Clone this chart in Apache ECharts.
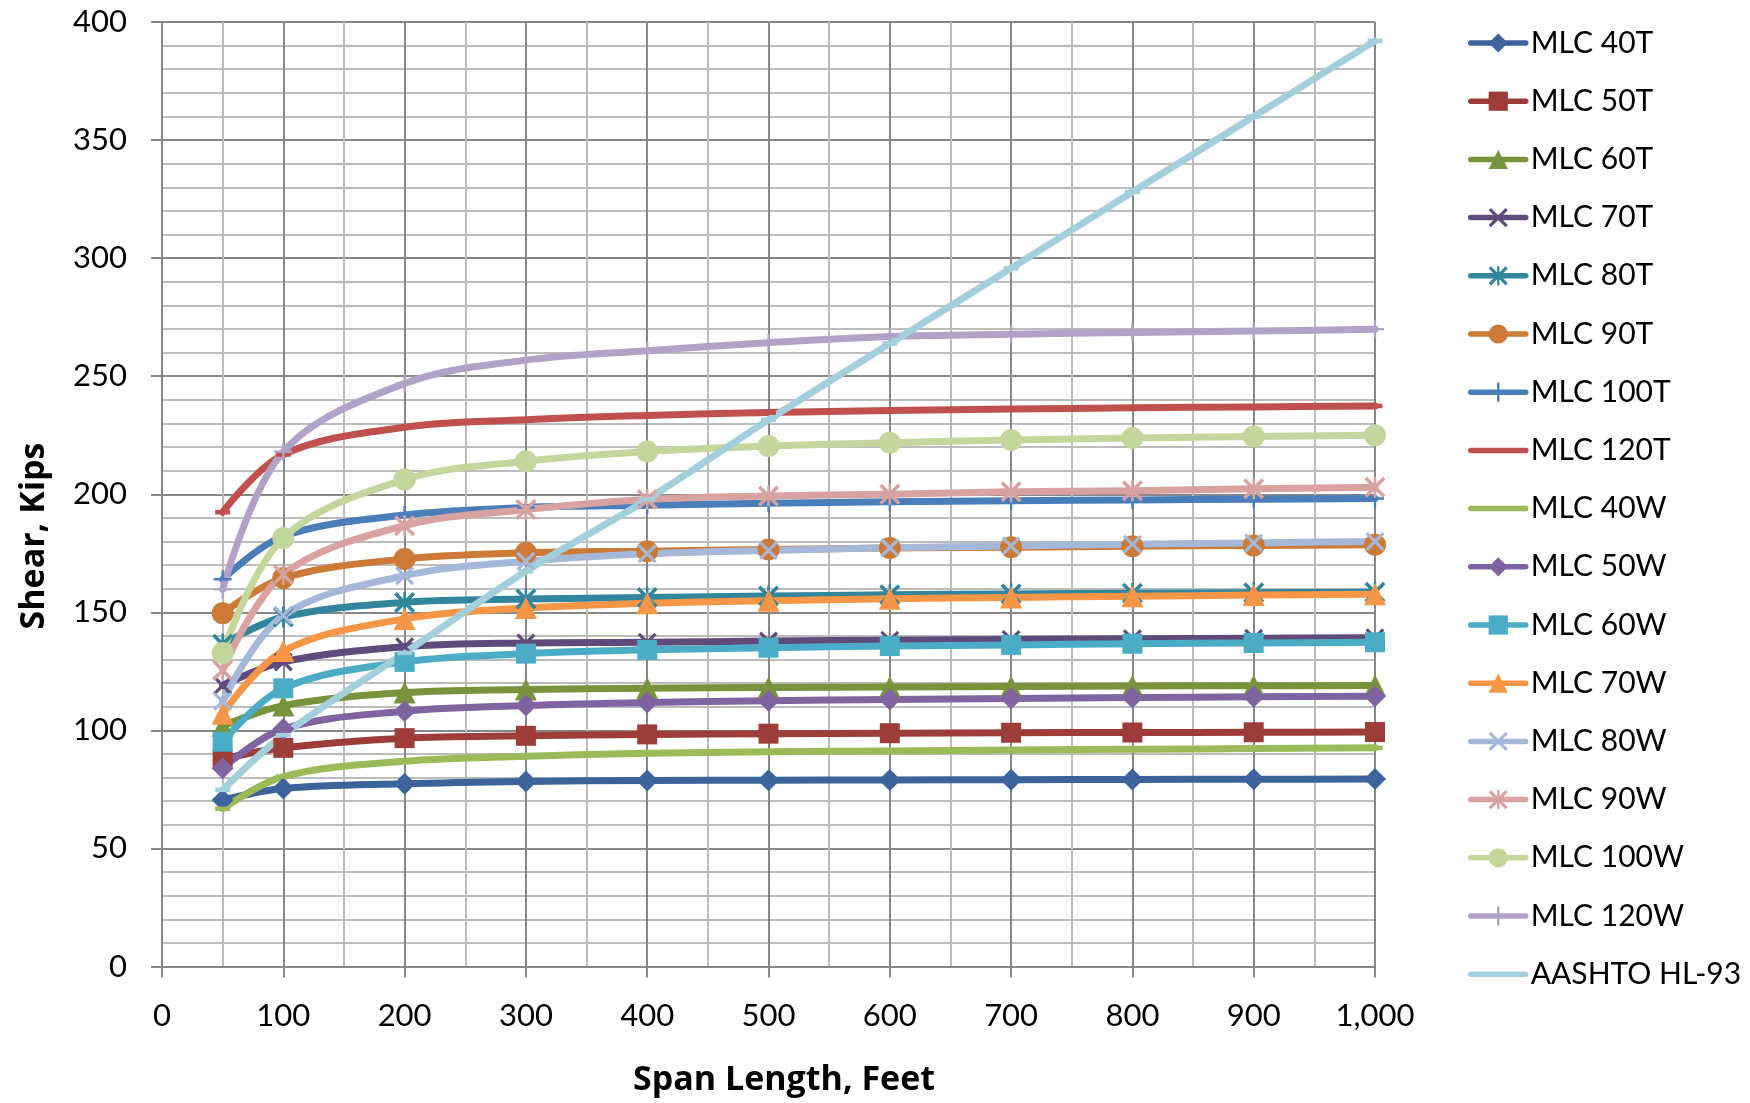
<!DOCTYPE html>
<html>
<head>
<meta charset="utf-8">
<script src="https://cdn.jsdelivr.net/npm/echarts@6/dist/echarts.min.js"></script>
<style>
html,body{margin:0;padding:0;background:#fff;}
#chart{width:1750px;height:1103px;}
</style>
</head>
<body>
<div id="chart"></div>
<script>
const spans = [50, 100, 200, 300, 400, 500, 600, 700, 800, 900, 1000];
const xTicks = [0, 100, 200, 300, 400, 500, 600, 700, 800, 900, 1000];
const yTicks = [0, 50, 100, 150, 200, 250, 300, 350, 400];

const mlc40T  = [70.5, 75.4, 77.4, 78.4, 78.8, 78.9, 79.0, 79.1, 79.2, 79.3, 79.4];
const mlc50T  = [87.8, 92.6, 96.7, 97.7, 98.3, 98.6, 98.8, 99.0, 99.1, 99.2, 99.3];
const mlc60T  = [101.8, 110.5, 116.0, 117.3, 117.8, 118.2, 118.4, 118.6, 118.8, 118.9, 119.0];
const mlc70T  = [119.0, 129.0, 135.4, 137.0, 137.3, 137.8, 138.2, 138.5, 138.8, 139.0, 139.2];
const mlc80T  = [136.5, 148.0, 154.2, 155.6, 156.3, 156.9, 157.4, 157.8, 158.1, 158.3, 158.5];
const mlc90T  = [149.6, 164.5, 172.6, 175.2, 175.9, 176.6, 177.2, 177.6, 178.0, 178.3, 178.6];
const mlc100T = [164.0, 182.2, 191.2, 194.4, 195.3, 196.2, 196.8, 197.2, 197.6, 197.9, 198.2];
const mlc120T = [192.4, 216.8, 228.4, 231.6, 233.4, 234.6, 235.5, 236.1, 236.6, 237.0, 237.4];
const mlc40W  = [66.8, 80.4, 86.9, 89.0, 90.3, 90.9, 91.3, 91.7, 92.0, 92.3, 92.6];
const mlc50W  = [84.0, 100.6, 108.1, 110.5, 111.8, 112.5, 113.1, 113.5, 113.9, 114.2, 114.5];
const mlc60W  = [95.2, 117.8, 129.0, 132.5, 134.1, 135.0, 135.7, 136.2, 136.7, 137.0, 137.3];
const mlc70W  = [107.0, 133.6, 147.2, 151.8, 153.8, 154.9, 155.7, 156.3, 156.8, 157.3, 157.7];
const mlc80W  = [112.2, 148.6, 165.5, 171.6, 174.8, 176.2, 177.3, 178.1, 178.8, 179.4, 180.0];
const mlc90W  = [125.5, 166.0, 186.7, 193.5, 197.8, 199.3, 200.0, 201.1, 201.5, 202.3, 203.0];
const mlc100W = [132.8, 181.5, 206.2, 214.0, 218.1, 220.4, 221.8, 223.0, 223.8, 224.5, 225.0];
const mlc120W = [159.7, 218.0, 246.9, 256.8, 260.8, 264.2, 266.8, 267.8, 268.5, 269.1, 269.9];
const hl93    = [74.8, 98.0, 132.8, 167.4, 197.8, 231.5, 263.8, 295.7, 328.0, 360.0, 392.0];

const seriesNames = ['MLC 40T','MLC 50T','MLC 60T','MLC 70T','MLC 80T','MLC 90T','MLC 100T','MLC 120T',
  'MLC 40W','MLC 50W','MLC 60W','MLC 70W','MLC 80W','MLC 90W','MLC 100W','MLC 120W','AASHTO HL-93'];
const seriesValues = [mlc40T, mlc50T, mlc60T, mlc70T, mlc80T, mlc90T, mlc100T, mlc120T,
  mlc40W, mlc50W, mlc60W, mlc70W, mlc80W, mlc90W, mlc100W, mlc120W, hl93];
const seriesColors = ['#3c649b','#9c3d3a','#77933c','#604a7b','#31859c','#cc7a36','#4a7ebb','#c0504d',
  '#9bbb59','#8064a2','#4bacc6','#f79646','#a5b8d9','#d8a2a1','#c3d69b','#b3a2c7','#a3cfdc'];

const X_PATH = 'path://M0,1.2L1.2,0L10,8.8L8.8,10ZM8.8,0L10,1.2L1.2,10L0,8.8Z';
const AST_PATH = 'path://M0,1.2L1.2,0L10,8.8L8.8,10ZM8.8,0L10,1.2L1.2,10L0,8.8ZM4.4,0H5.6V10H4.4Z';
const PLUS_PATH = 'path://M4.35,0H5.65V10H4.35ZM0,4.35H10V5.65H0Z';
const DASH_PATH = 'path://M0,0H10V3H0Z';

const markers = [
  ['diamond', 22], ['rect', 20], ['triangle', 22], [X_PATH, 19], [AST_PATH, 21], ['circle', 22], [PLUS_PATH, 18], [DASH_PATH, 15],
  [DASH_PATH, 15], ['diamond', 22], ['rect', 20], ['triangle', 22], [X_PATH, 19], [AST_PATH, 21], ['circle', 22], [PLUS_PATH, 18], [DASH_PATH, 15]
];
const hideLegendMarker = [false,false,false,false,false,false,false,true,true,false,false,false,false,false,false,false,true];

const FONT = 'Lato, "Open Sans", sans-serif';
const TITLE_FONT = '"Open Sans", Lato, sans-serif';

const series = seriesNames.map((name, i) => ({
  name: name,
  type: 'line',
  data: spans.map((x, j) => [x, seriesValues[i][j]]),
  smooth: 0.35,
  symbol: markers[i][0],
  symbolSize: markers[i][1],
  symbolKeepAspect: true,
  showAllSymbol: true,
  color: seriesColors[i],
  lineStyle: { width: 7, color: seriesColors[i], cap: 'round', join: 'round' },
  itemStyle: { color: seriesColors[i] },
  emphasis: { disabled: true },
  animation: false
}));

const legendData = seriesNames.map((name, i) => hideLegendMarker[i]
  ? { name: name, itemStyle: { opacity: 0 } }
  : { name: name });

const chart = echarts.init(document.getElementById('chart'), null, { renderer: 'canvas' });
chart.setOption({
  backgroundColor: '#ffffff',
  animation: false,
  grid: { left: 162, top: 22, width: 1213, height: 944.5, containLabel: false },
  xAxis: {
    type: 'value', min: xTicks[0], max: xTicks[xTicks.length - 1], interval: 100,
    axisLine: { show: true, lineStyle: { color: '#878787', width: 2 } },
    axisTick: { show: true, length: 11, lineStyle: { color: '#878787', width: 2 } },
    axisLabel: { margin: 34, fontSize: 31, fontFamily: FONT, color: '#000',
      formatter: v => v.toLocaleString('en-US') },
    splitLine: { show: true, lineStyle: { color: '#878787', width: 2 } },
    minorTick: { show: false, splitNumber: 2 },
    minorSplitLine: { show: true, lineStyle: { color: '#bcbcbc', width: 2 } }
  },
  yAxis: {
    type: 'value', min: yTicks[0], max: yTicks[yTicks.length - 1], interval: 50,
    axisLine: { show: true, lineStyle: { color: '#878787', width: 2 } },
    axisTick: { show: true, length: 11, lineStyle: { color: '#878787', width: 2 } },
    axisLabel: { margin: 35, fontSize: 31, fontFamily: FONT, color: '#000' },
    splitLine: { show: true, lineStyle: { color: '#878787', width: 2 } },
    minorTick: { show: false, splitNumber: 5 },
    minorSplitLine: { show: true, lineStyle: { color: '#bcbcbc', width: 2 } }
  },
  legend: {
    orient: 'vertical', left: 1463, top: 23,
    itemWidth: 55, itemHeight: 24, itemGap: 28.2,
    data: legendData,
    lineStyle: { width: 5.5 },
    textStyle: { fontSize: 30, fontFamily: FONT, color: '#000' },
    selectedMode: false
  },
  graphic: [
    { type: 'text', x: 34, y: 536, rotation: Math.PI / 2,
      style: { text: 'Shear, Kips', font: 'bold 34px ' + TITLE_FONT, fill: '#000', align: 'center', verticalAlign: 'middle' } },
    { type: 'text', x: 784, y: 1080,
      style: { text: 'Span Length, Feet', font: 'bold 34px ' + TITLE_FONT, fill: '#000', align: 'center', verticalAlign: 'middle' } }
  ],
  series: series
});
</script>
</body>
</html>
